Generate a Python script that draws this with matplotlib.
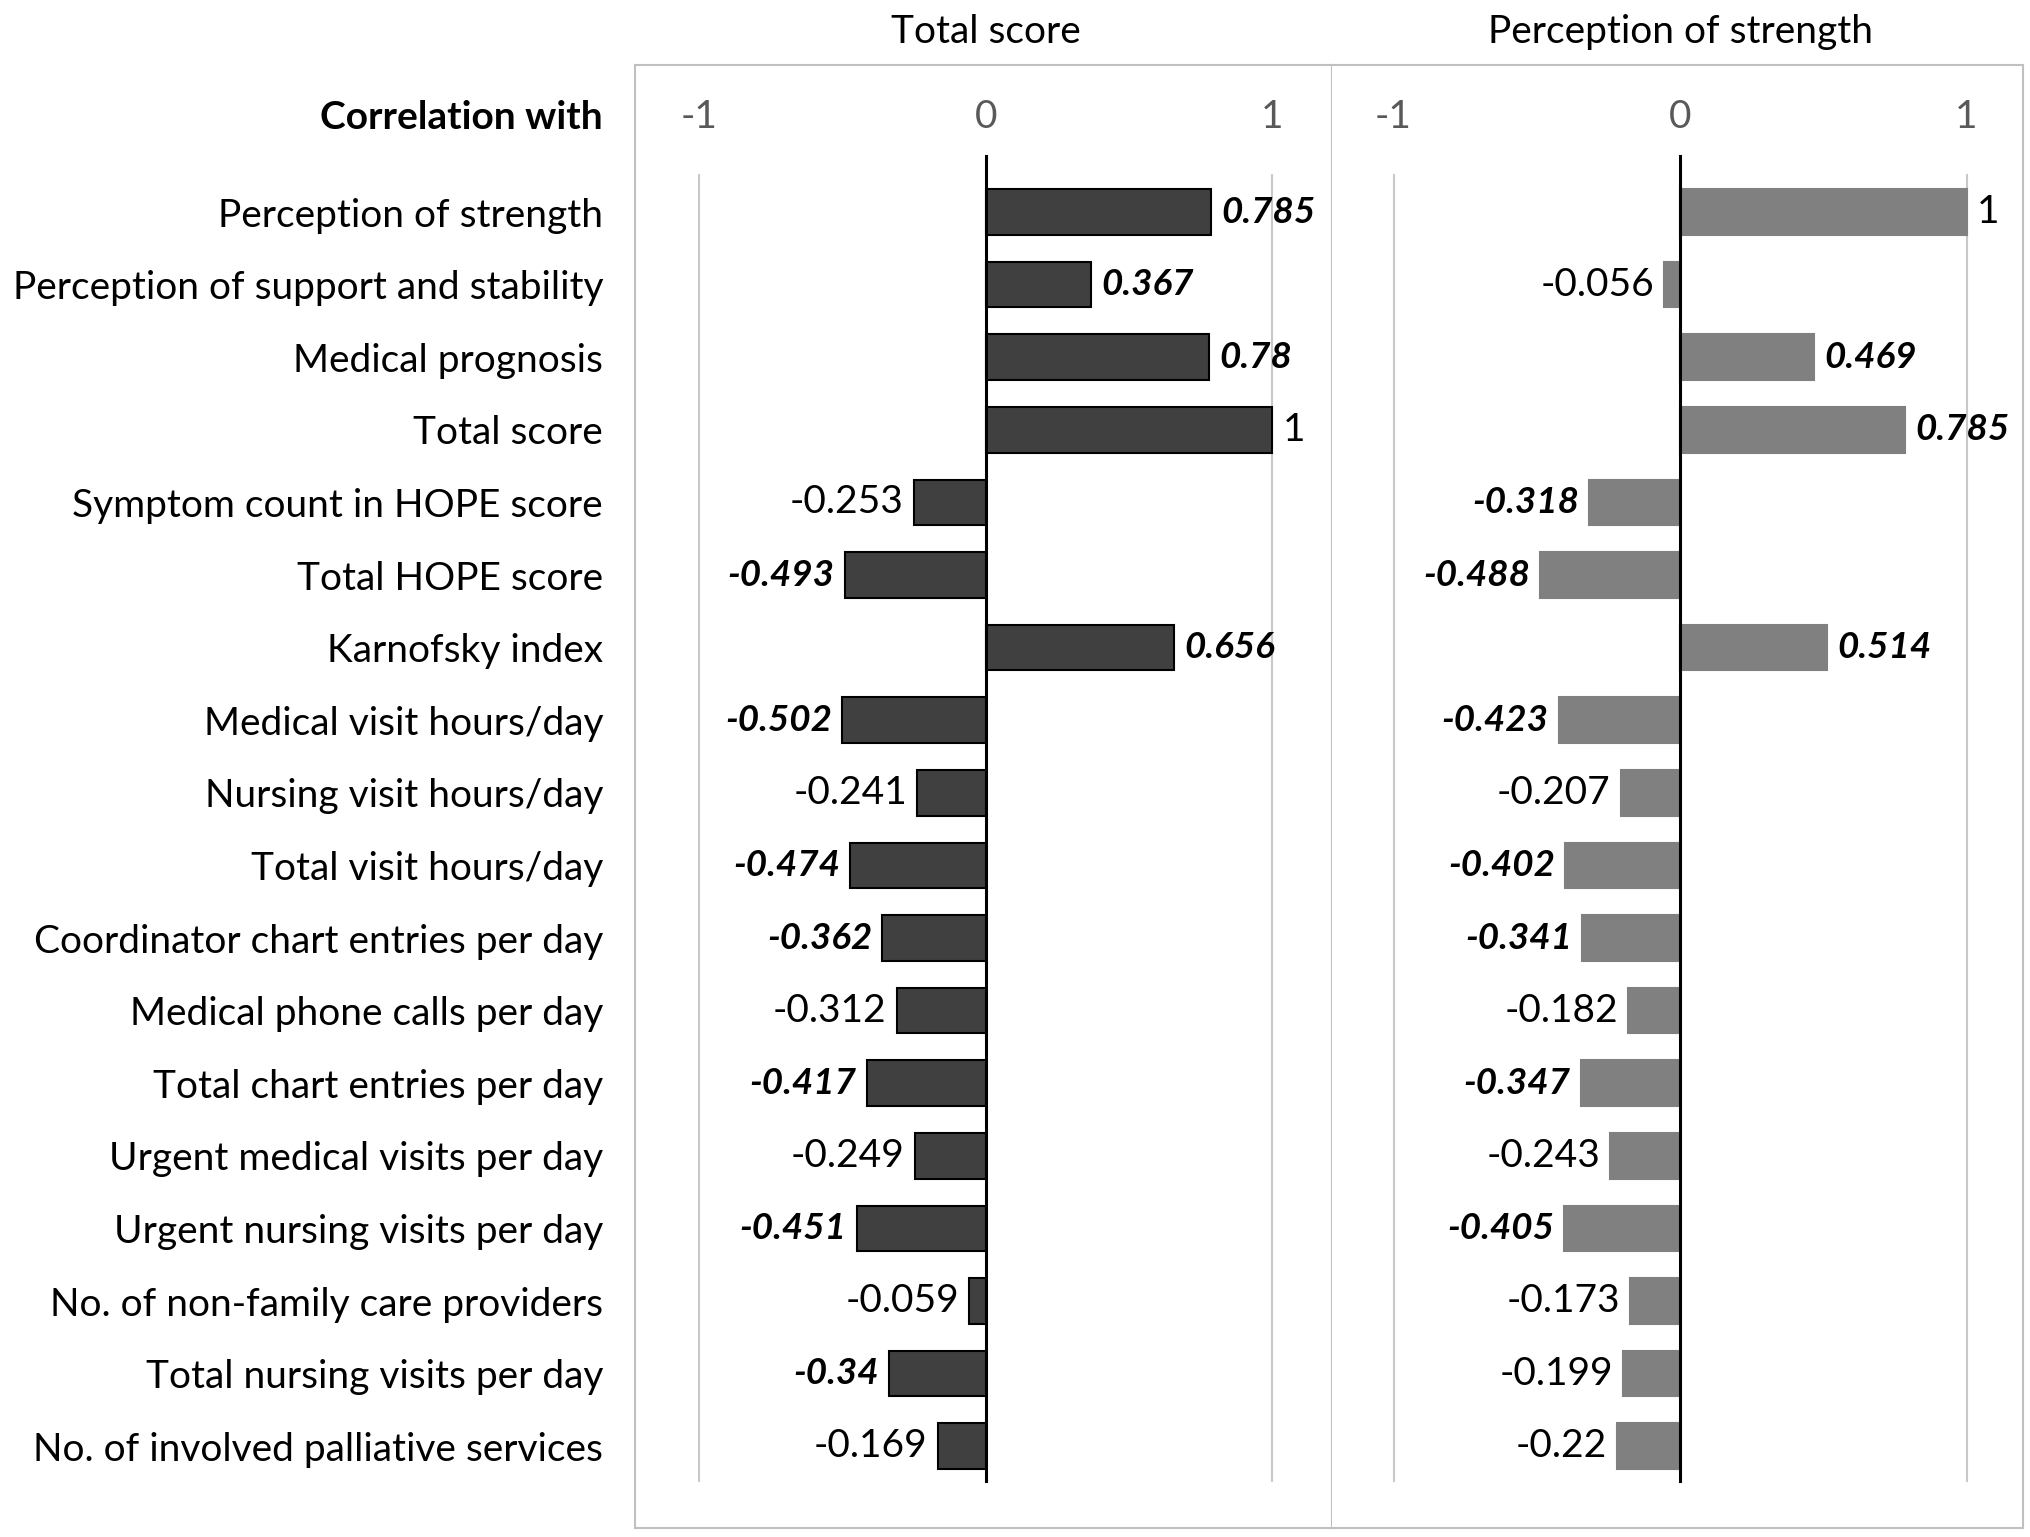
import numpy as np
import matplotlib
matplotlib.use("Agg")
import matplotlib.pyplot as plt

plt.rcParams['font.family'] = ['Lato', 'DejaVu Sans']

categories = [
    "Perception of strength",
    "Perception of support and stability",
    "Medical prognosis",
    "Total score",
    "Symptom count in HOPE score",
    "Total HOPE score",
    "Karnofsky index",
    "Medical visit hours/day",
    "Nursing visit hours/day",
    "Total visit hours/day",
    "Coordinator chart entries per day",
    "Medical phone calls per day",
    "Total chart entries per day",
    "Urgent medical visits per day",
    "Urgent nursing visits per day",
    "No. of non-family care providers",
    "Total nursing visits per day",
    "No. of involved palliative services",
]

total_score = [0.785, 0.367, 0.78, 1, -0.253, -0.493, 0.656, -0.502, -0.241,
               -0.474, -0.362, -0.312, -0.417, -0.249, -0.451, -0.059, -0.34, -0.169]
total_sig = [1, 1, 1, 0, 0, 1, 1, 1, 0, 1, 1, 0, 1, 0, 1, 0, 1, 0]

strength = [1, -0.056, 0.469, 0.785, -0.318, -0.488, 0.514, -0.423, -0.207,
            -0.402, -0.341, -0.182, -0.347, -0.243, -0.405, -0.173, -0.199, -0.22]
strength_sig = [0, 0, 1, 1, 1, 1, 1, 1, 0, 1, 1, 0, 1, 0, 1, 0, 0, 0]

panel_titles = ["Total score", "Perception of strength"]
tick_vals = [-1, 0, 1]

W, H = 2031, 1537
fig = plt.figure(figsize=(W / 100, H / 100), dpi=100)

box_top, box_bot = 65, 1528
panels = [(635, 1332, 986), (1332, 2023, 1680)]
unit = 286.5
row0, row_step = 212, 72.6

fs = 28
fs_sig = 26.5
edge_col = "#c0c0c0"
y_top = (box_top - row0) / row_step
y_bot = (box_bot - row0) / row_step

axes = []
for k, (x0, x1, xz) in enumerate(panels):
    ax = fig.add_axes([x0 / W, 1 - box_bot / H, (x1 - x0) / W, (box_bot - box_top) / H])
    ax.set_xlim((x0 - xz) / unit, (x1 - xz) / unit)
    ax.set_ylim(y_bot, y_top)
    for s in ax.spines.values():
        s.set_color(edge_col)
        s.set_linewidth(1.5)
    if k == 1:
        ax.spines['left'].set_visible(False)
    ax.set_xticks([])
    axes.append(ax)

grid_top = (175 - row0) / row_step
grid_bot = (1481 - row0) / row_step
zero_top = (156 - row0) / row_step
tick_y = (117 - row0) / row_step
title_y = (32 - row0) / row_step
y = np.arange(len(categories))

series = [(total_score, total_sig, "#404040", "black"),
          (strength, strength_sig, "#808080", "#808080")]

for k, ax in enumerate(axes):
    vals, sig, fc, ec = series[k]
    for t in [-1, 1]:
        ax.plot([t, t], [grid_top, grid_bot], color="#c8c8c8", lw=1.5, zorder=1)
    ax.barh(y, vals, height=0.63, color=fc, edgecolor=ec, linewidth=1.5, zorder=2)
    ax.plot([0, 0], [zero_top, grid_bot], color="black", lw=2.2, zorder=3)
    for t in tick_vals:
        ax.text(t, tick_y, f"{t}", ha="center", va="center", fontsize=fs, color="#595959")
    for i, (v, s) in enumerate(zip(vals, sig)):
        lab = f"{v:g}"
        kw = dict(fontsize=fs, va="center", color="black")
        if s:
            kw.update(fontweight="bold", fontstyle="italic", fontsize=fs_sig)
        if v >= 0:
            ax.text(v + 0.035, i, lab, ha="left", **kw)
        else:
            ax.text(v - 0.035, i, lab, ha="right", **kw)
    ax.text(0, title_y, panel_titles[k], ha="center", va="center",
            fontsize=fs, color="black", clip_on=False)

axes[0].set_yticks(y)
axes[0].set_yticklabels(categories, fontsize=fs)
axes[0].tick_params(axis='y', length=0, pad=23)
axes[1].set_yticks([])
axes[0].text(-32 / (panels[0][1] - panels[0][0]), tick_y, "Correlation with",
             transform=axes[0].get_yaxis_transform(),
             ha="right", va="center", fontsize=fs, fontweight="bold")

fig.savefig("out.png", dpi=100)
